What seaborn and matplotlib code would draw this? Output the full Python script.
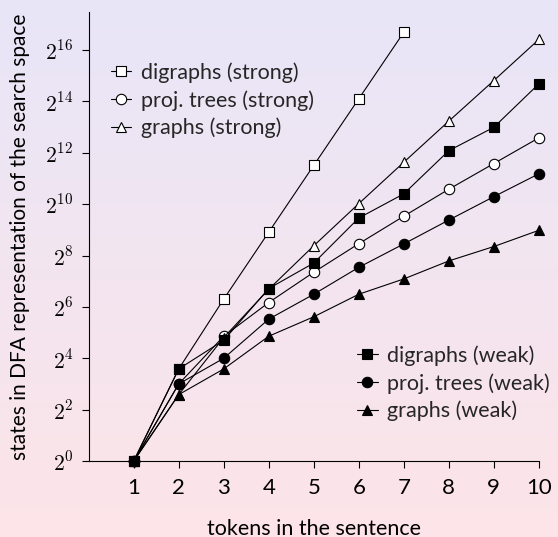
import numpy as np
import pandas as pd
import matplotlib
matplotlib.use("Agg")
import matplotlib.pyplot as plt
from matplotlib.lines import Line2D
import seaborn as sns

# ---- data (states in DFA) ----
tokens = [1, 2, 3, 4, 5, 6, 7, 8, 9, 10]
tokens_short = [1, 2, 3, 4, 5, 6, 7]

digraphs_strong = [1, 12, 79, 481, 2916, 17560, 105700]
proj_trees_strong = [1, 8, 29, 72, 163, 352, 739, 1530, 3060, 6120]
graphs_strong = [1, 6, 28, 103, 333, 1038, 3170, 9610, 28720, 87000]

digraphs_weak = [1, 12, 26, 105, 209, 704, 1351, 4330, 8135, 26250]
proj_trees_weak = [1, 8, 16, 46, 90, 186, 350, 666, 1252, 2320]
graphs_weak = [1, 6, 12, 29, 49, 90, 136, 221, 326, 505]

ytick_exps = [0, 2, 4, 6, 8, 10, 12, 14, 16]

sns.set_theme(style="white")
plt.rcParams["font.family"] = ["Lato", "DejaVu Sans"]
plt.rcParams["mathtext.fontset"] = "cm"

W, H = 5.58, 5.37
fig = plt.figure(figsize=(W, H), dpi=100)

# gradient background
bg = fig.add_axes([0, 0, 1, 1], zorder=-10)
top = np.array([232, 230, 248]) / 255
bot = np.array([253, 228, 232]) / 255
t = np.linspace(0, 1, 256)[:, None]
grad = top[None, :] * (1 - t) + bot[None, :] * t
bg.imshow(grad[:, None, :], aspect="auto", extent=[0, 1, 0, 1])
bg.axis("off")

ax = fig.add_axes([0.159, 0.1415, 0.8066, 0.8362])
ax.patch.set_alpha(0)

series = [
    (tokens_short, digraphs_strong, "s", "white", 7.5, "digraphs (strong)"),
    (tokens, proj_trees_strong, "o", "white", 7.5, "proj. trees (strong)"),
    (tokens, graphs_strong, "^", "white", 6.5, "graphs (strong)"),
    (tokens, digraphs_weak, "s", "black", 7.5, "digraphs (weak)"),
    (tokens, proj_trees_weak, "o", "black", 7.5, "proj. trees (weak)"),
    (tokens, graphs_weak, "^", "black", 6.5, "graphs (weak)"),
]

handles = []
for xs, ys, mk, fc, ms, lab in series:
    df = pd.DataFrame({"x": xs, "y": ys})
    sns.lineplot(data=df, x="x", y="y", ax=ax, color="black", lw=0.8,
                 marker=mk, markersize=ms, markerfacecolor=fc,
                 markeredgecolor="black", markeredgewidth=0.8,
                 clip_on=False, legend=False)
    handles.append(Line2D([0], [0], color="black", lw=0.8, marker=mk,
                          markersize=ms, markerfacecolor=fc,
                          markeredgecolor="black", markeredgewidth=0.8,
                          label=lab))

ax.set_yscale("log", base=2)
ax.set_xlim(0, 10)
ax.set_ylim(1, 2 ** 17.48)
ax.set_xticks(tokens)
ax.set_xticklabels([str(v) for v in tokens], fontsize=16)
ax.set_yticks([2 ** e for e in ytick_exps])
ax.set_yticklabels([r"$2^{%d}$" % e for e in ytick_exps], fontsize=15.5)
ax.yaxis.set_minor_locator(matplotlib.ticker.NullLocator())

for s in ["top", "right"]:
    ax.spines[s].set_visible(False)
for s in ["left", "bottom"]:
    ax.spines[s].set_color("black")
    ax.spines[s].set_linewidth(0.8)
ax.tick_params(axis="both", direction="out", length=5, width=0.8,
               color="black", labelcolor="black", bottom=True, left=True)
ax.tick_params(axis="x", pad=7)
ax.tick_params(axis="y", pad=6)

ax.set_xlabel("tokens in the sentence", fontsize=15.5, color="black", labelpad=15)
ax.set_ylabel("states in DFA representation of the search space",
              fontsize=15, color="black", labelpad=11)

common = dict(loc="upper left", frameon=False, fontsize=15.5,
              handlelength=0.95, handletextpad=0.45, labelspacing=0.33,
              borderpad=0, borderaxespad=0)
leg1 = fig.legend(handles=handles[:3], bbox_to_anchor=(0.199, 0.884), **common)
leg2 = fig.legend(handles=handles[3:], bbox_to_anchor=(0.640, 0.357), **common)

fig.savefig("out.png", dpi=100)
